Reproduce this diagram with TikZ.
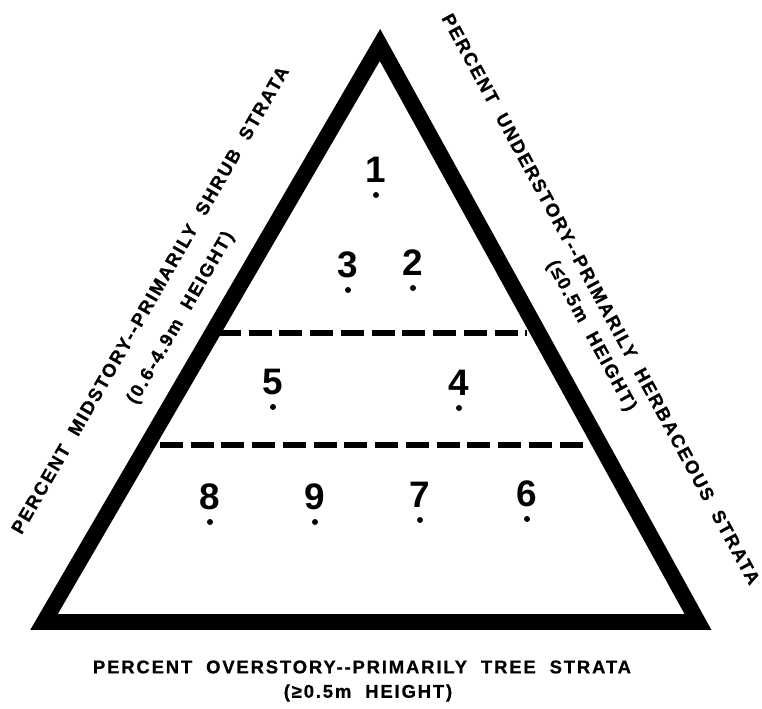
\documentclass[tikz,border=0pt]{standalone}
\usepackage{fontspec}
\setmainfont{Liberation Sans}
\newfontfamily\stratafont[LetterSpace=10,WordSpace=2,FakeBold=0.8]{Liberation Sans Bold}
\begin{document}
\begin{tikzpicture}[x=0.02cm, y=0.02cm, label distance=5pt,
    side/.style={line width=9pt, line join=miter},
    divider/.style={line width=3pt, dash pattern=on 13pt off 4.5pt},
    dot/.style={circle, fill, inner sep=0pt, minimum size=3.4pt},
    num/.style={font=\fontsize{21}{21}\selectfont\bfseries, inner sep=0pt},
    axis/.style={font=\stratafont\fontsize{10.5}{12}\selectfont, inner sep=0pt}]
    \useasboundingbox (0, 0) rectangle (762, 709);

    % Vẽ tam giác
    \coordinate (top) at (380, 664);
    \coordinate (left) at (44, 87);
    \coordinate (right) at (698, 87);
    \draw[side] (left) -- (top) -- (right) -- cycle;

    % Các đường phân tầng
    \coordinate (upA) at (218, 376);
    \coordinate (upB) at (527, 376);
    \coordinate (lowA) at (160, 264);
    \coordinate (lowB) at (590, 264);
    \draw[divider] (upA) -- (upB);
    \draw[divider] (lowA) -- (lowB);

    % Các điểm
    \node[dot, label={[num]above:1}] (p1) at (376, 514) {};
    \node[dot, label={[num]above:3}] (p3) at (348, 419) {};
    \node[dot, label={[num]above:2}] (p2) at (413, 421) {};
    \node[dot, label={[num]above:5}] (p5) at (273, 302) {};
    \node[dot, label={[num]above:4}] (p4) at (459, 301) {};
    \node[dot, label={[num]above:8}] (p8) at (210, 187) {};
    \node[dot, label={[num]above:9}] (p9) at (315, 187) {};
    \node[dot, label={[num]above:7}] (p7) at (420, 189) {};
    \node[dot, label={[num]above:6}] (p6) at (527, 190) {};

    % Nhãn các cạnh
    \node[axis, rotate=60] (mid) at (150, 409) {PERCENT MIDSTORY-{}-PRIMARILY SHRUB STRATA};
    \node[axis, rotate=60] (midh) at (181, 391) {(0.6-4.9m HEIGHT)};
    \node[axis, rotate=-61.5] (under) at (601, 410) {PERCENT UNDERSTORY-{}-PRIMARILY HERBACEOUS STRATA};
    \node[axis, rotate=-61.5] (underh) at (591, 373) {(≤0.5m HEIGHT)};
    \node[axis] (over) at (362, 42) {PERCENT OVERSTORY-{}-PRIMARILY TREE STRATA};
    \node[axis] (overh) at (368, 16) {(≥0.5m HEIGHT)};
\end{tikzpicture}
\end{document}
